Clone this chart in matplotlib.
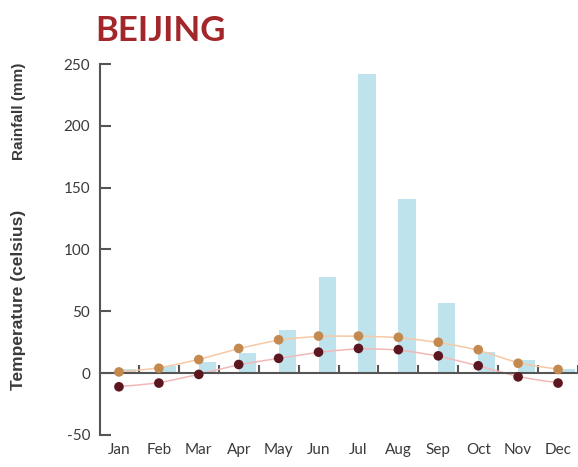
import numpy as np
import matplotlib
matplotlib.use("Agg")
import matplotlib.pyplot as plt

plt.rcParams["axes.unicode_minus"] = False

# Beijing climate values
months = ["Jan", "Feb", "Mar", "Apr", "May", "Jun",
          "Jul", "Aug", "Sep", "Oct", "Nov", "Dec"]
rainfall = [3, 6, 9, 16, 35, 78, 242, 141, 57, 17, 11, 3]
temp_high = [1, 4, 11, 20, 27, 30, 30, 29, 25, 19, 8, 3]
temp_low = [-11, -8, -1, 7, 12, 17, 20, 19, 14, 6, -3, -8]

x = np.arange(len(months))

fig = plt.figure(figsize=(5.78, 4.67), dpi=100)
ax = fig.add_axes([100 / 578, 32 / 467, 478 / 578, 371 / 467])

# rainfall bars (start at the month and sit to the right of it)
ax.bar(x, rainfall, width=0.43, align="edge", color="#bfe3ec", zorder=1)

# temperature curves, smoothed between points
xs = np.linspace(0, 11, 200)
for vals, lc, mc in [(temp_high, "#f6c9a4", "#c3894f"),
                     (temp_low, "#f2b8b8", "#5c1620")]:
    ys = np.interp(xs, x, vals)
    # light smoothing so the line curves like the original
    k = np.ones(15) / 15
    ys_s = np.convolve(np.pad(ys, 7, mode="edge"), k, mode="valid")
    ax.plot(xs, ys_s, color=lc, lw=1.1, zorder=2)
    ax.scatter(x, vals, s=48, color=mc, zorder=3, edgecolors="none")

ax.set_xlim(-0.475, 11.475)
ax.set_ylim(-50, 250)

# spines: left axis plus a zero line with ticks between months
for s in ["top", "right"]:
    ax.spines[s].set_visible(False)
ax.spines["left"].set_color("#555555")
ax.spines["left"].set_linewidth(1.5)
ax.spines["bottom"].set_position(("data", 0))
ax.spines["bottom"].set_color("#555555")
ax.spines["bottom"].set_linewidth(1.5)

ax.set_yticks([-50, 0, 50, 100, 150, 200, 250])
ax.tick_params(axis="y", direction="in", length=8, width=1.5,
               color="#555555", labelsize=11, labelcolor="#3a3a3a", pad=7)
for lab in ax.get_yticklabels():
    lab.set_family("Lato")

ax.set_xticks(x + 0.5)
ax.set_xticklabels([])
ax.tick_params(axis="x", direction="in", length=6, width=1.5, color="#555555")

sec = ax.secondary_xaxis(0)
sec.spines["bottom"].set_visible(False)
sec.set_xticks(x)
sec.set_xticklabels(months, family="Lato")
sec.tick_params(length=0, labelsize=11, labelcolor="#3a3a3a", pad=6)

fig.text(95 / 578, 1 - 31 / 467, "BEIJING", color="#a3262a",
         fontsize=25, fontweight="bold", va="center", ha="left",
         family="Lato")
fig.text(19 / 578, 1 - 111 / 467, "Rainfall (mm)", rotation=90,
         fontsize=11, fontweight="bold", color="#3a3a3a",
         ha="center", va="center", family="Liberation Sans")
fig.text(19 / 578, 1 - 300 / 467, "Temperature (celsius)", rotation=90,
         fontsize=12.5, fontweight="bold", color="#3a3a3a",
         ha="center", va="center", family="Liberation Sans")

fig.savefig("out.png", dpi=100)
